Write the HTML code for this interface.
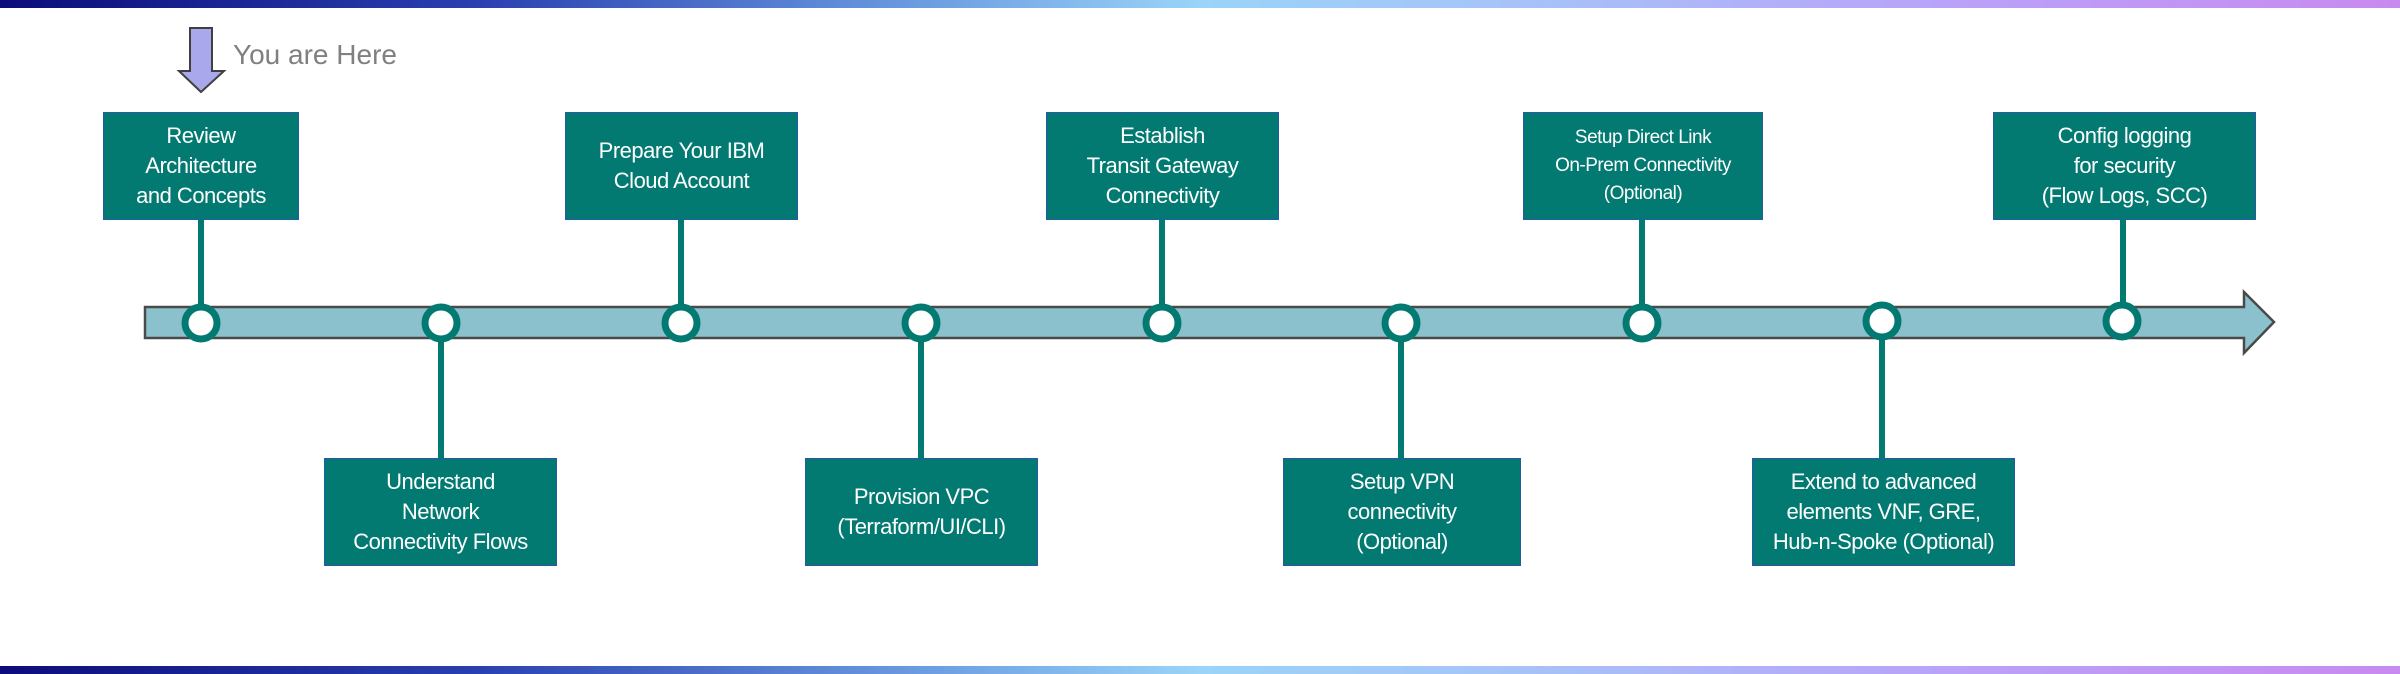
<!DOCTYPE html>
<html><head><meta charset="utf-8"><style>
body{margin:0;width:2400px;height:674px;position:relative;background:#fff;overflow:hidden;font-family:"Liberation Sans",sans-serif}
.bar{position:absolute;left:0;width:2400px;height:8px;background:linear-gradient(90deg,#0c0c7a 0%,#2a40b0 20%,#6a9ae0 38%,#9ad4f8 50%,#a8c0f8 65%,#b8a4f8 80%,#c88af0 100%)}
.box{position:absolute;background:#027a72;border:1.5px solid #2858a8;box-sizing:border-box;color:#fff;display:flex;align-items:center;justify-content:center;text-align:center;font-size:22px;line-height:30px;letter-spacing:-0.5px}
</style></head><body>
<div class="bar" style="top:0"></div>
<div class="bar" style="top:666px"></div>
<svg width="2400" height="674" style="position:absolute;left:0;top:0">
<polygon points="190,28 212,28 212,71 224,71 201,92 179,71 190,71" fill="#aaa8ec" stroke="#404040" stroke-width="2"/>
<polygon points="145,307 2244,307 2244,292 2274,322 2244,353 2244,338 145,338" fill="#8bc1cc" stroke="#4a4a4a" stroke-width="2.5"/>
<g stroke="#027a72" stroke-width="6">
<line x1="201" y1="219" x2="201" y2="323"/><line x1="441" y1="323" x2="441" y2="458"/>
<line x1="681" y1="219" x2="681" y2="323"/><line x1="921" y1="323" x2="921" y2="458"/>
<line x1="1162" y1="219" x2="1162" y2="323"/><line x1="1401" y1="323" x2="1401" y2="458"/>
<line x1="1642" y1="219" x2="1642" y2="323"/><line x1="1882" y1="321" x2="1882" y2="458"/>
<line x1="2123" y1="219" x2="2123" y2="321"/>
</g>
<g fill="#fff" stroke="#027a72" stroke-width="7">
<circle cx="201" cy="323" r="16"/><circle cx="441" cy="323" r="16"/><circle cx="681" cy="323" r="16"/>
<circle cx="921" cy="323" r="16"/><circle cx="1162" cy="323" r="16"/><circle cx="1401" cy="323" r="16"/>
<circle cx="1642" cy="323" r="16"/><circle cx="1882" cy="321" r="16"/><circle cx="2122" cy="321" r="16"/>
</g>
<text x="233" y="64" font-family="Liberation Sans, sans-serif" font-size="28" fill="#808080">You are Here</text>
</svg>
<div class="box" style="left:103px;top:112px;width:196px;height:108px">Review<br>Architecture<br>and Concepts</div>
<div class="box" style="left:324px;top:458px;width:233px;height:108px">Understand<br>Network<br>Connectivity Flows</div>
<div class="box" style="left:565px;top:112px;width:233px;height:108px">Prepare Your IBM<br>Cloud Account</div>
<div class="box" style="left:805px;top:458px;width:233px;height:108px">Provision VPC<br>(Terraform/UI/CLI)</div>
<div class="box" style="left:1046px;top:112px;width:233px;height:108px">Establish<br>Transit Gateway<br>Connectivity</div>
<div class="box" style="left:1283px;top:458px;width:238px;height:108px">Setup VPN<br>connectivity<br>(Optional)</div>
<div class="box" style="left:1523px;top:112px;width:240px;height:108px;font-size:19px;line-height:28px">Setup Direct Link<br>On-Prem Connectivity<br>(Optional)</div>
<div class="box" style="left:1752px;top:458px;width:263px;height:108px">Extend to advanced<br>elements VNF, GRE,<br>Hub-n-Spoke (Optional)</div>
<div class="box" style="left:1993px;top:112px;width:263px;height:108px">Config logging<br>for security<br>(Flow Logs, SCC)</div>
</body></html>
